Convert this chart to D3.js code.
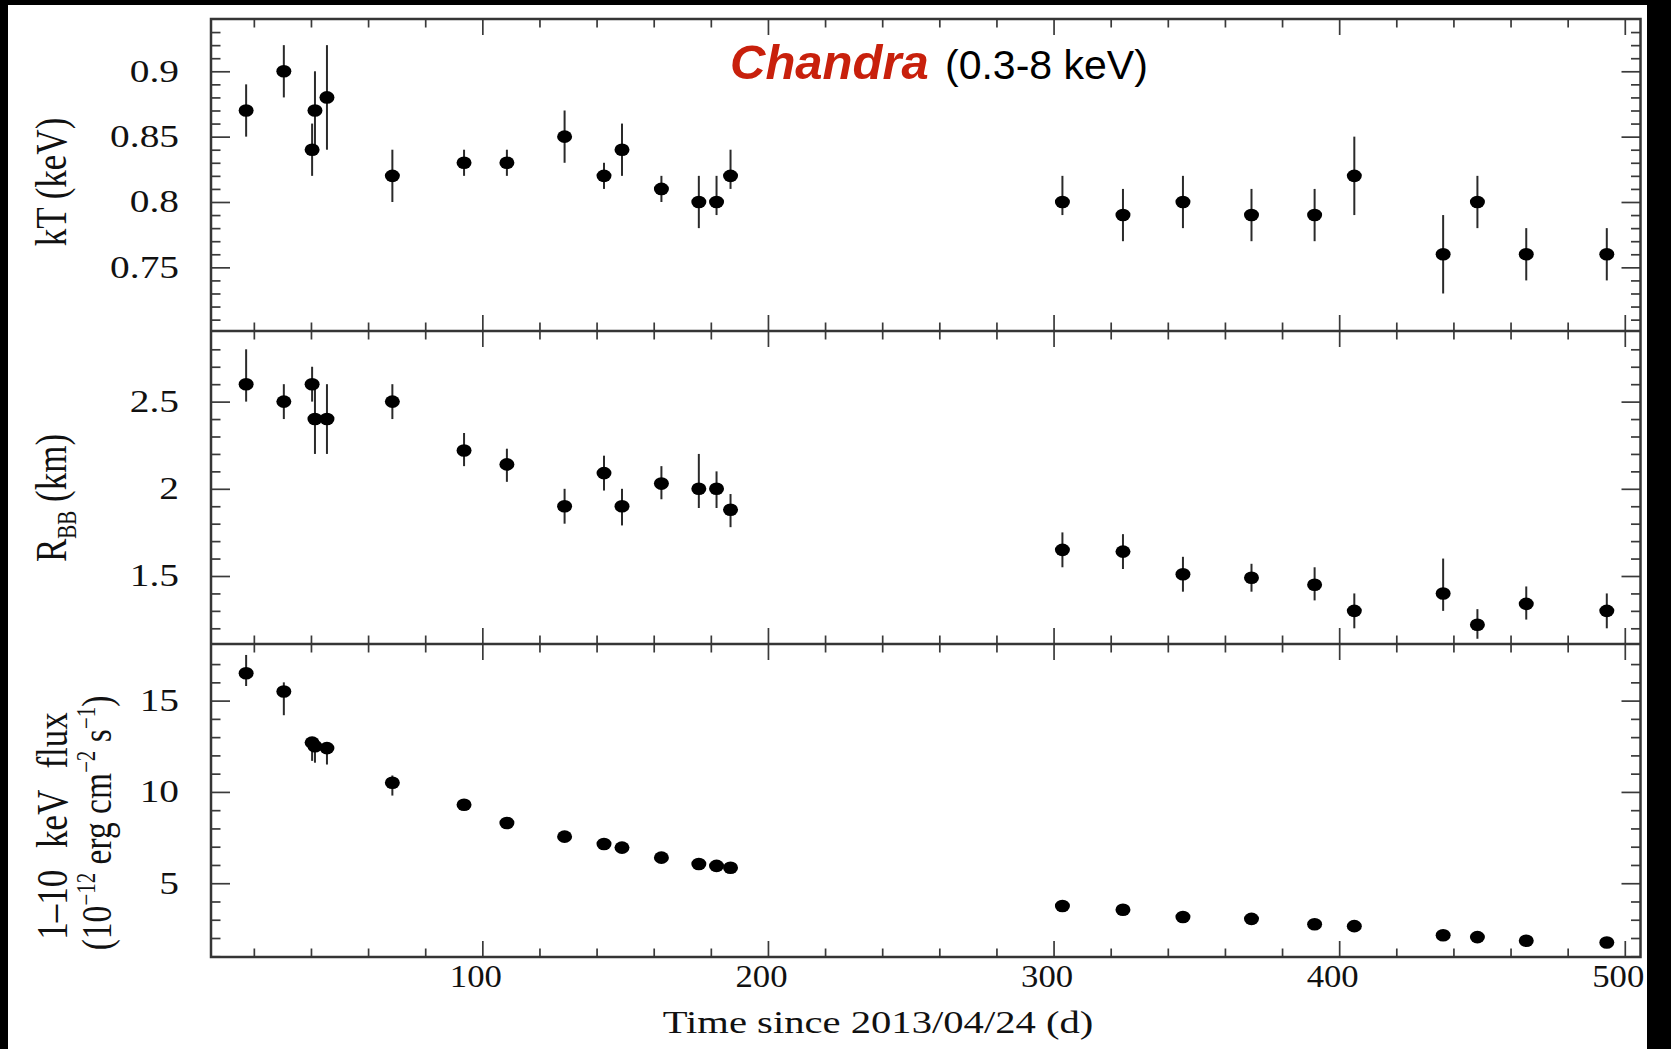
<!DOCTYPE html>
<html><head><meta charset="utf-8">
<script src="https://cdn.jsdelivr.net/npm/d3@7"></script>
<style>
html,body{margin:0;padding:0;background:#000;}
svg{display:block;}
</style></head>
<body>
<script>
// ---------------- data ----------------
const days = [17.3, 30.5, 40.4, 41.4, 45.6, 68.5, 93.6, 108.6, 128.8, 142.6, 148.9, 162.7, 175.8, 182.0, 186.9,
              303.1, 324.3, 345.3, 369.3, 391.4, 405.3, 436.4, 448.4, 465.5, 493.7];

const kT    = [0.87, 0.90, 0.84, 0.87, 0.88, 0.82, 0.83, 0.83, 0.85, 0.82, 0.84, 0.81, 0.80, 0.80, 0.82,
               0.80, 0.79, 0.80, 0.79, 0.79, 0.82, 0.76, 0.80, 0.76, 0.76];
const kTLo  = [0.85, 0.88, 0.82, 0.84, 0.84, 0.80, 0.82, 0.82, 0.83, 0.81, 0.82, 0.80, 0.78, 0.79, 0.81,
               0.79, 0.77, 0.78, 0.77, 0.77, 0.79, 0.73, 0.78, 0.74, 0.74];
const kTHi  = [0.89, 0.92, 0.86, 0.90, 0.92, 0.84, 0.84, 0.84, 0.87, 0.83, 0.86, 0.82, 0.82, 0.82, 0.84,
               0.82, 0.81, 0.82, 0.81, 0.81, 0.85, 0.79, 0.82, 0.78, 0.78];

const rBB   = [2.60, 2.50, 2.60, 2.40, 2.40, 2.50, 2.22, 2.14, 1.90, 2.09, 1.90, 2.03, 2.00, 2.00, 1.88,
               1.65, 1.64, 1.51, 1.49, 1.45, 1.30, 1.40, 1.22, 1.34, 1.30];
const rBBLo = [2.50, 2.40, 2.50, 2.20, 2.20, 2.40, 2.13, 2.04, 1.80, 1.99, 1.79, 1.94, 1.89, 1.89, 1.78,
               1.55, 1.54, 1.41, 1.41, 1.36, 1.20, 1.30, 1.14, 1.25, 1.20];
const rBBHi = [2.80, 2.60, 2.70, 2.60, 2.60, 2.60, 2.32, 2.23, 2.00, 2.19, 2.00, 2.13, 2.20, 2.10, 1.97,
               1.75, 1.74, 1.61, 1.57, 1.55, 1.40, 1.60, 1.31, 1.44, 1.40];

const flux   = [16.5, 15.5, 12.7, 12.5, 12.4, 10.5, 9.3, 8.3, 7.55, 7.15, 6.95, 6.4, 6.05, 5.95, 5.85,
                3.75, 3.55, 3.15, 3.05, 2.75, 2.65, 2.15, 2.05, 1.85, 1.75];
const fluxLo = [15.8, 14.2, 11.7, 11.6, 11.5, 9.8, 9.1, 8.1, 7.35, 6.95, 6.75, 6.2, 5.85, 5.75, 5.65,
                3.55, 3.35, 2.95, 2.85, 2.55, 2.45, 1.95, 1.85, 1.65, 1.55];
const fluxHi = [17.5, 16.0, 13.0, 12.8, 12.7, 10.9, 9.5, 8.5, 7.75, 7.35, 7.15, 6.6, 6.25, 6.15, 6.05,
                3.95, 3.75, 3.35, 3.25, 2.95, 2.85, 2.35, 2.25, 2.05, 1.95];

const xMajorTicks = [100, 200, 300, 400, 500];
const xMinorTicks = [20, 40, 60, 80, 120, 140, 160, 180, 220, 240, 260, 280, 320, 340, 360, 380, 420, 440, 460, 480];
const kTMajorTicks = [0.75, 0.8, 0.85, 0.9];
const kTMinorTicks = [0.71, 0.72, 0.73, 0.74, 0.76, 0.77, 0.78, 0.79, 0.81, 0.82, 0.83, 0.84, 0.86, 0.87, 0.88, 0.89, 0.91, 0.92, 0.93];
const rMajorTicks = [1.5, 2, 2.5];
const rMinorTicks = [1.2, 1.3, 1.4, 1.6, 1.7, 1.8, 1.9, 2.1, 2.2, 2.3, 2.4, 2.6, 2.7, 2.8];
const fMajorTicks = [5, 10, 15];
const fMinorTicks = [1, 2, 3, 4, 6, 7, 8, 9, 11, 12, 13, 14, 16, 17];

const titleMain = "Chandra";
const titleSub = "(0.3-8 keV)";
const xTitle = "Time since 2013/04/24 (d)";

// ---------------- layout ----------------
const W = 1671, H = 1049;
const L = 211, R = 1640.5;
const tops = [19, 331, 644], bots = [331, 644, 957];
const STRETCH = 1.27;
const SERIF = "'Liberation Serif','Times New Roman',Times,serif";

const svg = d3.select("body").append("svg").attr("width", W).attr("height", H);
svg.append("rect").attr("x", 8).attr("y", 5).attr("width", 1639).attr("height", H - 5).attr("fill", "#fff");

const x = d3.scaleLinear().domain([5, 505.5]).range([L, R]);
const panels = [
  {y: d3.scaleLinear().domain([0.7013, 0.94]).range([bots[0], tops[0]]), v: kT, lo: kTLo, hi: kTHi,
   maj: kTMajorTicks, min: kTMinorTicks, fmt: d => String(d)},
  {y: d3.scaleLinear().domain([1.11, 2.905]).range([bots[1], tops[1]]), v: rBB, lo: rBBLo, hi: rBBHi,
   maj: rMajorTicks, min: rMinorTicks, fmt: d => String(d)},
  {y: d3.scaleLinear().domain([0.96, 18.1]).range([bots[2], tops[2]]), v: flux, lo: fluxLo, hi: fluxHi,
   maj: fMajorTicks, min: fMinorTicks, fmt: d => String(d)}
];

const tickColor = "#3a3a3a";
function styleAxis(g) {
  g.select(".domain").remove();
  g.selectAll(".tick line").attr("stroke", tickColor).attr("stroke-width", 1.7);
}

panels.forEach((p, i) => {
  const top = tops[i], bot = bots[i];
  // x ticks (inward) on bottom and top
  svg.append("g").attr("transform", `translate(0,${bot})`)
    .call(d3.axisBottom(x).tickValues(xMinorTicks).tickSize(-8.5).tickFormat("")).call(styleAxis);
  const xb = svg.append("g").attr("transform", `translate(0,${bot})`)
    .call(d3.axisBottom(x).tickValues(xMajorTicks).tickSize(-16).tickPadding(8)
      .tickFormat(i === 2 ? d3.format("d") : "")).call(styleAxis);
  svg.append("g").attr("transform", `translate(0,${top})`)
    .call(d3.axisTop(x).tickValues(xMinorTicks).tickSize(-8.5).tickFormat("")).call(styleAxis);
  svg.append("g").attr("transform", `translate(0,${top})`)
    .call(d3.axisTop(x).tickValues(xMajorTicks).tickSize(-16).tickFormat("")).call(styleAxis);
  if (i === 2) {
    xb.selectAll("text").attr("font-family", SERIF).attr("font-size", 31).attr("fill", "#111")
      .each(function() {
        const t = d3.select(this);
        const yy = +t.attr("y");
        t.attr("y", 0).attr("transform", `translate(-7,${yy}) scale(1.12,1)`);
      });
  }
  // y ticks left/right
  svg.append("g").attr("transform", `translate(${L},0)`)
    .call(d3.axisLeft(p.y).tickValues(p.min).tickSize(-9.5).tickFormat("")).call(styleAxis);
  const yl = svg.append("g").attr("transform", `translate(${L},0)`)
    .call(d3.axisLeft(p.y).tickValues(p.maj).tickSize(-19).tickPadding(32).tickFormat(p.fmt)).call(styleAxis);
  yl.selectAll("text").attr("font-family", SERIF).attr("font-size", 31).attr("fill", "#111")
    .each(function() {
      const t = d3.select(this);
      const xx = +t.attr("x");
      t.attr("x", 0).attr("transform", `translate(${xx},0) scale(${STRETCH},1)`);
    });
  svg.append("g").attr("transform", `translate(${R},0)`)
    .call(d3.axisRight(p.y).tickValues(p.min).tickSize(-9.5).tickFormat("")).call(styleAxis);
  svg.append("g").attr("transform", `translate(${R},0)`)
    .call(d3.axisRight(p.y).tickValues(p.maj).tickSize(-19).tickFormat("")).call(styleAxis);

  // error bars
  svg.append("g").selectAll("line").data(days).join("line")
    .attr("x1", d => x(d)).attr("x2", d => x(d))
    .attr("y1", (d, k) => p.y(p.lo[k])).attr("y2", (d, k) => p.y(p.hi[k]))
    .attr("stroke", "#2a2a2a").attr("stroke-width", 2);
  // markers
  svg.append("g").selectAll("ellipse").data(days).join("ellipse")
    .attr("cx", d => x(d)).attr("cy", (d, k) => p.y(p.v[k]))
    .attr("rx", 7.5).attr("ry", 6.3).attr("fill", "#000");
});

// frame
const frame = svg.append("g").attr("fill", "none").attr("stroke", "#353535").attr("stroke-width", 2.5);
frame.append("rect").attr("x", L).attr("y", tops[0]).attr("width", R - L).attr("height", bots[2] - tops[0]);
frame.append("line").attr("x1", L).attr("x2", R).attr("y1", bots[0]).attr("y2", bots[0]);
frame.append("line").attr("x1", L).attr("x2", R).attr("y1", bots[1]).attr("y2", bots[1]);

// x title
svg.append("text").attr("transform", `translate(878,1033) scale(${STRETCH},1)`)
  .attr("text-anchor", "middle").attr("font-family", SERIF).attr("font-size", 32).attr("fill", "#111")
  .text(xTitle);

// y titles
function yTitle(xb, yc, size, build) {
  const t = svg.append("text").attr("transform", `translate(${xb},${yc}) scale(${STRETCH},1) rotate(-90)`)
    .attr("text-anchor", "middle").attr("font-family", SERIF).attr("font-size", size).attr("fill", "#111");
  build(t);
  return t;
}
yTitle(66, 182, 35, t => t.text("kT (keV)"));
yTitle(66, 498, 35, t => {
  t.append("tspan").text("R");
  t.append("tspan").attr("font-size", 21).attr("dy", 8).text("BB");
  t.append("tspan").attr("dy", -8).text(" (km)");
});
yTitle(67, 826, 35, t => t.attr("word-spacing", 13).text("1–10 keV flux"));
yTitle(111, 823, 33.5, t => {
  t.append("tspan").text("(10");
  t.append("tspan").attr("font-size", 21).attr("dy", -13).text("−12");
  t.append("tspan").attr("dy", 13).text(" erg cm");
  t.append("tspan").attr("font-size", 21).attr("dy", -13).text("−2");
  t.append("tspan").attr("dy", 13).text(" s");
  t.append("tspan").attr("font-size", 21).attr("dy", -13).text("−1");
  t.append("tspan").attr("dy", 13).text(")");
});

// Chandra title
svg.append("text").attr("x", 730).attr("y", 79)
  .attr("font-family", "'Liberation Sans',Arial,sans-serif").attr("font-size", 49)
  .attr("font-weight", "bold").attr("font-style", "italic").attr("fill", "#c8200c").text(titleMain);
svg.append("text").attr("x", 945).attr("y", 79)
  .attr("font-family", "'Liberation Sans',Arial,sans-serif").attr("font-size", 41)
  .attr("fill", "#000").text(titleSub);
</script>
</body></html>
